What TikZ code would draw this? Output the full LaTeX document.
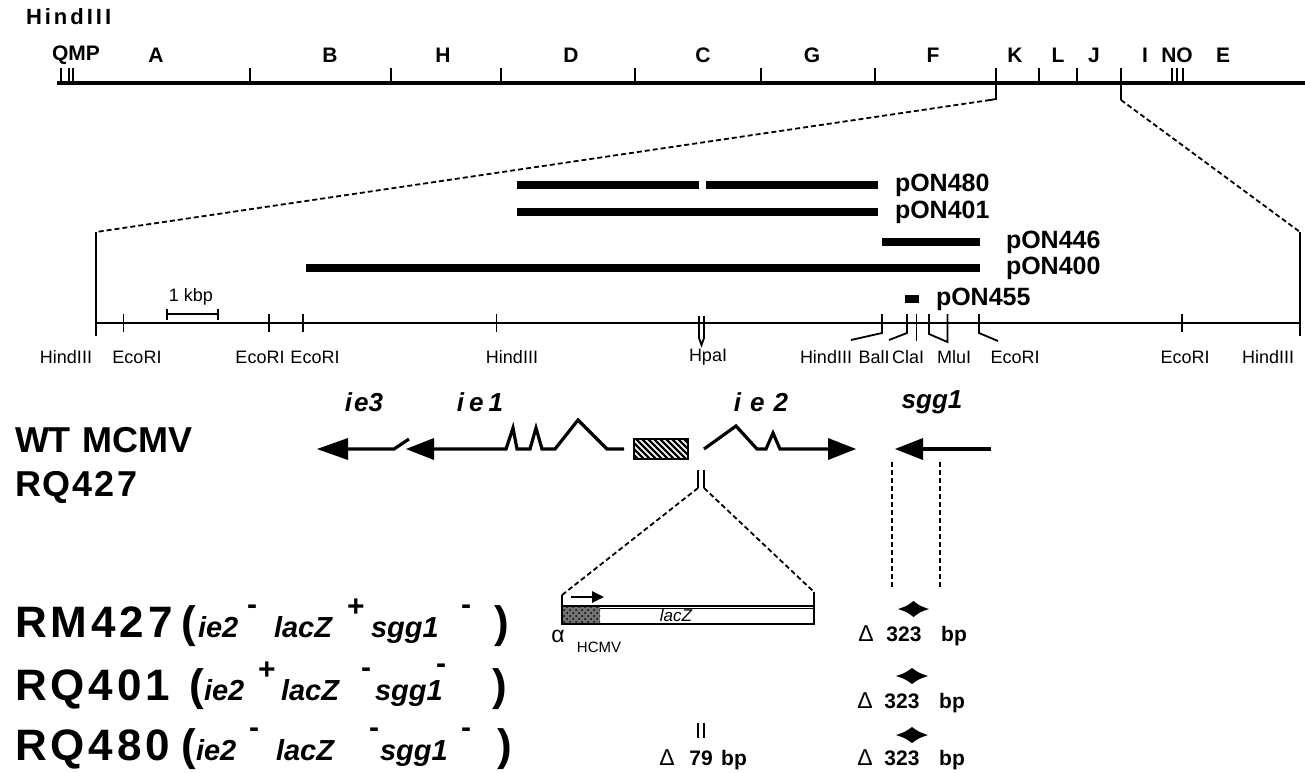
\documentclass[tikz,border=0pt]{standalone}
\usepackage{fontspec}
\setmainfont{Liberation Sans}
\usetikzlibrary{patterns,arrows.meta}
\newcommand{\fsz}[1]{\fontsize{#1}{#1}\selectfont}
\newcommand{\kk}{\kern1.5pt}
\newcommand{\kb}{\kern2pt}
\begin{document}
\begin{tikzpicture}[x=0.5pt,y=-0.5pt,
  every node/.style={inner sep=0pt, outer sep=0pt},
  maplbl/.style={font=\fsz{10.5}\bfseries},
  plas/.style={line width=4pt},
  plaslbl/.style={font=\fsz{12.5}\bfseries, anchor=west},
  enz/.style={font=\fsz{9}},
  genelbl/.style={font=\fsz{13}\bfseries\itshape},
  gene/.style={line width=1.6pt, line join=miter},
  zoomline/.style={dash pattern=on 2.5pt off 1.5pt, line width=0.9pt},
  tk/.style={line width=0.9pt},
  bigA/.style={font=\fsz{18}\bfseries, anchor=base west},
  bigB/.style={font=\fsz{22}\bfseries, anchor=base west},
  ital/.style={font=\fsz{14.5}\bfseries\itshape, anchor=base west},
  supr/.style={font=\fsz{15}\bfseries, anchor=base west},
  dlt/.style={font=\fsz{11.5}, anchor=base},
  num/.style={font=\fsz{10.5}\bfseries, anchor=base},
]
\useasboundingbox (0,0) rectangle (1305,772);
\fill[white] (0,0) rectangle (1305,772);

% ---------- top HindIII map ----------
\node[maplbl, anchor=west, font=\fsz{11}\bfseries] (title) at (26,17) {H\kk i\kk n\kk d\kk I\kk I\kk I};
\foreach \t/\x [count=\i] in {QMP/76, A/156, B/330, H/443, D/571, C/703, G/812, F/933, K/1015, L/1058, J/1094, I/1145, NO/1177, E/1223}
  \node[maplbl] (frag\i) at (\x,55) {\t};
\draw[line width=2pt] (57,83) -- (1305,83);
\foreach \x in {61,69,73,250,391,501,635,761,875,1039,1077,1172,1177,1183}
  \draw[tk] (\x,68) -- (\x,83);
\draw[tk] (996,68) -- (996,99) -- (990,100);
\draw[tk] (1121,68) -- (1121,100);
\draw[zoomline] (990,100) -- (96,232);
\draw[zoomline] (1121,100) -- (1300,232);

% ---------- expanded map ----------
\draw[line width=1pt] (96,232) -- (96,336);
\draw[line width=1pt] (1300,232) -- (1300,336);
\draw[line width=1pt] (96,323) -- (1300,323);
\foreach \x in {123.5,269,303,496.5,1182}
  \draw[tk] (\x,314) -- (\x,332);
% scale bar
\draw[tk] (167,309) -- (167,320) (167,314) -- (218,314) (218,309) -- (218,320);
\node[enz] (kbp) at (191,297) {1 kbp};
% HpaI
\draw[tk] (699,316) -- (699,338) -- (701.5,345) -- (704,338) -- (704,316);
% cluster
\draw[tk] (882,314) -- (882,333) -- (851,340);
\draw[tk] (907,314) -- (907,333) -- (889,340);
\draw[tk] (916.5,314) -- (916.5,341);
\draw[tk] (929,314) -- (929,334) -- (947.5,342) -- (947.5,314);
\draw[tk] (979,314) -- (979,333) -- (998,341);

% plasmids
\draw[plas] (517,185) -- (699,185) (706,185) -- (878,185);
\draw[plas] (517,212) -- (878,212);
\draw[plas] (882,242) -- (980,242);
\draw[plas] (306,268) -- (980,268);
\fill (905,295) rectangle (919,303);
\node[plaslbl] (p480) at (895,185) {pON480};
\node[plaslbl] (p401) at (895,212) {pON401};
\node[plaslbl] (p446) at (1006,242) {pON446};
\node[plaslbl] (p400) at (1006,268) {pON400};
\node[plaslbl] (p455) at (936,299) {pON455};

% enzyme labels
\foreach \t/\x [count=\i] in {HindIII/66, EcoRI/137, EcoRI/260, EcoRI/315, HindIII/512, HpaI/708, HindIII/826, BalI/874, ClaI/908, MluI/954, EcoRI/1015, EcoRI/1185, HindIII/1268}
  \node[enz] (enz\i) at (\x,357) {\t};

% ---------- genes ----------
\node[genelbl] (gie3) at (364,402) {i\kern1pt e3};
\node[genelbl] (gie1) at (480,402) {i\kern2.5pt e\kern2.5pt 1};
\node[genelbl] (gie2) at (761,402) {i\kern4.5pt e\kern4.5pt 2};
\node[genelbl] (gsgg) at (932,402) {sgg1};

\fill (317,449) -- (348,438) -- (348,460) -- cycle;
\draw[gene] (346,449) -- (394,449) -- (409,439);
\fill (406,449) -- (434,438) -- (434,460) -- cycle;
\draw[gene] (432,449) -- (506,449) -- (513,428) -- (517,449) -- (530,449) -- (536,428) -- (542,449) -- (555,449) -- (578,420) -- (607,449) -- (624,449);
\begin{scope}
  \clip (634,439) rectangle (688,459);
  \foreach \i in {0,...,14}
    \draw[line width=1.1pt] ({612+\i*6},439) -- ({632+\i*6},459);
\end{scope}
\draw[line width=1.1pt] (634,439) rectangle (688,459);
\draw[gene] (704,449) -- (736,426) -- (757,449) -- (766,449) -- (773,433) -- (780,449) -- (830,449);
\fill (856,449) -- (828,438) -- (828,460) -- cycle;
\fill (895,449) -- (923,438) -- (923,460) -- cycle;
\draw[gene] (921,449) -- (991,449);

% insertion
\draw[tk] (698,470) -- (698,488) (704,470) -- (704,488);
\draw[zoomline] (698,488) -- (562,595);
\draw[zoomline] (704,488) -- (814,592);
\draw[zoomline] (892,462) -- (892,587);
\draw[zoomline] (940,462) -- (940,587);

% lacZ cassette
\fill[black!55] (562,606) rectangle (600,624);
\fill[pattern=crosshatch dots] (562,606) rectangle (600,624);
\draw[line width=1.1pt] (562,606) rectangle (814,624);
\draw[line width=0.6pt] (600,608.5) -- (814,608.5);
\draw[tk] (562,595) -- (562,606) (814,592) -- (814,606);
\draw[line width=1.3pt, -{Triangle[length=6pt,width=5.5pt]}] (571,597) -- (604,597);
\node[font=\fsz{8.5}\itshape] (lacz) at (676,615) {lacZ};
\node[font=\fsz{11.5}] (alpha) at (558,636) {α};
\node[font=\fsz{7.5}] (hcmv) at (599,647) {HCMV};

% deletion marks
\foreach \y/\xa/\xb/\n in {609/898/929/1, 676/896/928/2, 735/896/928/3}{
  \fill (\xa,\y) .. controls ({\xa+9},{\y-3}) .. ({(\xa+\xb)/2},{\y-8}) .. controls ({\xb-9},{\y-3}) .. (\xb,\y)
        .. controls ({\xb-9},{\y+3}) .. ({(\xa+\xb)/2},{\y+8}) .. controls ({\xa+9},{\y+3}) .. (\xa,\y) -- cycle;
}
\node[dlt] (d1a) at (866,641) {Δ};
\node[num] (d1b) at (904,641) {323};
\node[num] (d1c) at (954,641) {bp};
\node[dlt] (d2a) at (865,708) {Δ};
\node[num] (d2b) at (902,708) {323};
\node[num] (d2c) at (952,708) {bp};
\node[dlt] (d3a) at (865,765) {Δ};
\node[num] (d3b) at (902,765) {323};
\node[num] (d3c) at (952,765) {bp};
\draw[tk] (698,723) -- (698,738) (704,723) -- (704,738);
\node[dlt] (d4a) at (667,765) {Δ};
\node[num] (d4b) at (701,765) {79};
\node[num] (d4c) at (734,765) {bp};

% ---------- left labels ----------
\node[bigA] (wt) at (15,452) {WT\kern1pt\ MCMV};
\node[bigA] (rq427) at (15,496) {R\kern1pt Q\kern1pt 4\kern1pt 2\kern1pt 7};

\node[bigB] (r1a) at (15,637) {R\kb M\kb 4\kb 2\kb 7};
\node[bigB] (r1b) at (181,637) {(};
\node[ital] (r1c) at (198,637) {ie2};
\node[supr] (r1d) at (247,614) {-};
\node[ital] (r1e) at (274,637) {lacZ};
\node[supr] (r1f) at (347,616) {+};
\node[ital] (r1g) at (371,637) {sgg1};
\node[supr] (r1h) at (461,614) {-};
\node[bigB] (r1i) at (494,637) {)};

\node[bigB] (r2a) at (15,700) {R\kb Q\kb 4\kb 0\kb 1};
\node[bigB] (r2b) at (189,700) {(};
\node[ital] (r2c) at (204,700) {ie2};
\node[supr] (r2d) at (258,679) {+};
\node[ital] (r2e) at (281,700) {lacZ};
\node[supr] (r2f) at (361,677) {-};
\node[ital] (r2g) at (375,700) {sgg1};
\node[supr] (r2h) at (436,673) {-};
\node[bigB] (r2i) at (492,700) {)};

\node[bigB] (r3a) at (15,760) {R\kb Q\kb 4\kb 8\kb 0};
\node[bigB] (r3b) at (181,760) {(};
\node[ital] (r3c) at (196,760) {ie2};
\node[supr] (r3d) at (249,737) {-};
\node[ital] (r3e) at (276,760) {lacZ};
\node[supr] (r3f) at (369,737) {-};
\node[ital] (r3g) at (380,760) {sgg1};
\node[supr] (r3h) at (461,737) {-};
\node[bigB] (r3i) at (497,760) {)};
\end{tikzpicture}
\end{document}
